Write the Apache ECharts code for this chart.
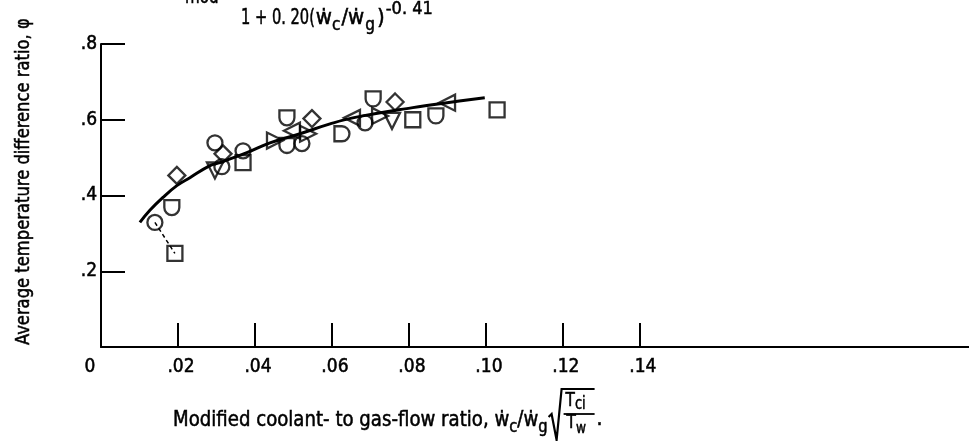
<!DOCTYPE html>
<html>
<head>
<meta charset="utf-8">
<script src="https://cdn.jsdelivr.net/npm/echarts@6/dist/echarts.min.js"></script>
<style>
  html, body { margin: 0; padding: 0; background: #fff; }
  #chart { width: 969px; height: 441px; }
</style>
</head>
<body>
<div id="chart"></div>
<script>
// Axis ticks
const xTickValues = [0, 0.02, 0.04, 0.06, 0.08, 0.10, 0.12, 0.14];
const yTickValues = [0.2, 0.4, 0.6, 0.8];

// Correlation curve through the data
const curveX = [0.0101, 0.0127, 0.0161, 0.0197, 0.0231, 0.0283, 0.0309, 0.0379, 0.0439, 0.0517, 0.0595, 0.0654, 0.081, 0.0899, 0.0997];
const curveY = [0.329, 0.361, 0.395, 0.426, 0.447, 0.479, 0.487, 0.513, 0.539, 0.563, 0.589, 0.605, 0.632, 0.645, 0.658];

// Measured points, one list per symbol
const circles   = [[0.0140, 0.329], [0.0296, 0.539], [0.0314, 0.476], [0.0369, 0.518], [0.0522, 0.537], [0.0686, 0.592]];
const squares   = [[0.0192, 0.247], [0.0369, 0.487], [0.081, 0.600], [0.1029, 0.626]];
const diamonds  = [[0.0197, 0.453], [0.0317, 0.510], [0.0548, 0.603], [0.0764, 0.647]];
const triDown   = [[0.0296, 0.466], [0.0756, 0.597]];
const triRight  = [[0.0452, 0.545], [0.0538, 0.563], [0.0725, 0.610]];
const triLeft   = [[0.0496, 0.571], [0.0652, 0.605], [0.0899, 0.645]];
const flagDown  = [[0.0184, 0.368], [0.0483, 0.605], [0.0483, 0.532], [0.0707, 0.655], [0.087, 0.610]];
const flagRight = [[0.0626, 0.563]];

const FONT = '"Liberation Sans Narrow", "DejaVu Sans Condensed", "Roboto Condensed", "Arial Narrow", "Liberation Sans", sans-serif';
const INK = '#000';

function zip(xs, ys) { return xs.map((x, i) => [x, ys[i]]); }

const chart = echarts.init(document.getElementById('chart'), null, { renderer: 'canvas' });

const hollow = { color: 'rgba(0,0,0,0)', borderColor: INK, borderWidth: 2.3 };
function pts(name, data, symbol, size, rotate) {
  return {
    name, type: 'scatter', data, symbol, symbolSize: size, symbolRotate: rotate || 0,
    symbolKeepAspect: true, itemStyle: hollow, z: 3, silent: true
  };
}

// Text layout helper: lays pieces left to right using measured widths
const mctx = document.createElement('canvas').getContext('2d');
function measure(text, size) { mctx.font = size + 'px ' + FONT; return mctx.measureText(text).width; }
function run(x0, baseline, sx, pieces) {
  let x = x0;
  const els = [];
  pieces.forEach(p => {
    const k = p.sx || sx;
    els.push({
      type: 'text', x: x, y: baseline + (p.dy || 0), scaleX: k,
      style: { text: p.t, font: p.s + 'px ' + FONT, fill: INK, stroke: INK, lineWidth: 0.5,
               textAlign: 'left', textVerticalAlign: 'bottom' }
    });
    x += measure(p.t, p.s) * k + (p.gap || 0);
  });
  return { els, end: x };
}

// Top: clipped expression
const top1 = run(185, 8, 0.8, [{ t: 'mod', s: 21 }]);
const top2 = run(241, 29, 1, [
  { t: '1 + 0. 20(', s: 22, sx: 0.74, gap: 1 }, { t: 'ẇ', s: 22 }, { t: 'c', s: 17, dy: 5, gap: 1 },
  { t: '/ẇ', s: 22, gap: 1 }, { t: 'g', s: 17, dy: 5, gap: 2 }, { t: ')', s: 22, gap: 1 },
  { t: '-0. 41', s: 18, dy: -11 }
]);

// x-axis title with radical
const xt = run(173, 431, 0.96, [
  { t: 'Modified coolant- to gas-flow ratio, ẇ', s: 21 }, { t: 'c', s: 17, dy: 5 },
  { t: '/ẇ', s: 21 }, { t: 'g', s: 17, dy: 5, gap: 1 }
]);
const rx = xt.end;
const fracW = 32;
const radical = [
  { type: 'polyline', shape: { points: [[rx, 417], [rx + 3, 414], [rx + 8, 440], [rx + 13, 389], [rx + 14 + fracW, 389]] },
    style: { stroke: INK, lineWidth: 2.2, fill: null } },
  { type: 'line', shape: { x1: rx + 15, y1: 414, x2: rx + 14 + fracW, y2: 414 }, style: { stroke: INK, lineWidth: 1.8 } }
];
const numer = run(rx + 17, 411, 0.85, [{ t: 'T', s: 20 }, { t: 'ci', s: 17, dy: 2 }]);
const denom = run(rx + 18, 433, 0.85, [{ t: 'T', s: 20 }, { t: 'w', s: 16, dy: 4 }]);
const period = run(rx + 16 + fracW, 430, 1, [{ t: '.', s: 21 }]);

const tickLabel = { color: INK, fontFamily: FONT, fontSize: 19, textBorderColor: INK, textBorderWidth: 0.5 };

const option = {
  backgroundColor: '#fff',
  animation: false,
  grid: { left: 101, right: 0, top: 44, bottom: 94, containLabel: false },
  xAxis: {
    type: 'value', min: 0, max: 0.2255,
    axisLine: { show: true, onZero: false, lineStyle: { color: INK, width: 2 } },
    axisTick: { show: true, inside: true, length: 24, customValues: xTickValues.slice(1), lineStyle: { color: INK, width: 2 } },
    axisLabel: Object.assign({
      customValues: xTickValues, margin: 11,
      formatter: v => v === 0 ? '{o|0}' : '{n|.' + String(Math.round(v * 100)).padStart(2, '0') + '}',
      rich: {
        o: Object.assign({ padding: [0, 22, 0, 0] }, tickLabel),
        n: Object.assign({ padding: [0, 0, 0, 6] }, tickLabel)
      }
    }, tickLabel),
    splitLine: { show: false }
  },
  yAxis: {
    type: 'value', min: 0, max: 0.8, interval: 0.2,
    axisLine: { show: true, onZero: false, lineStyle: { color: INK, width: 2 } },
    axisTick: { show: true, inside: true, length: 24, customValues: yTickValues, lineStyle: { color: INK, width: 2 } },
    axisLabel: Object.assign({
      customValues: yTickValues, margin: 4,
      formatter: v => '.' + Math.round(v * 10)
    }, tickLabel),
    splitLine: { show: false }
  },
  series: [
    { name: 'curve', type: 'line', data: zip(curveX, curveY), smooth: 0.4, showSymbol: false,
      lineStyle: { color: INK, width: 3 }, z: 2, silent: true },
    { name: 'link', type: 'line', data: [circles[0], squares[0]], showSymbol: false,
      lineStyle: { color: INK, width: 1.5, type: [4, 3] }, z: 2, silent: true },
    pts('circles', circles, 'circle', 15),
    pts('squares', squares, 'rect', 15),
    pts('diamonds', diamonds, 'diamond', 17),
    pts('triDown', triDown, 'triangle', 16, 180),
    pts('triRight', triRight, 'triangle', 16, -90),
    pts('triLeft', triLeft, 'triangle', 16, 90),
    pts('flagDown', flagDown, 'path://M0 0H10V5A5 5 0 0 1 0 5Z', 15),
    pts('flagRight', flagRight, 'path://M0 0H5A5 5 0 0 1 5 10H0Z', 15)
  ],
  graphic: [
    { type: 'text', x: 24, y: 345, rotation: Math.PI / 2, scaleX: 0.91,
      style: { text: 'Average temperature difference ratio, φ', font: '20px ' + FONT, fill: INK,
               stroke: INK, lineWidth: 0.5, textAlign: 'left', textVerticalAlign: 'middle' } },
    ...top1.els, ...top2.els, ...xt.els, ...radical, ...numer.els, ...denom.els, ...period.els
  ]
};

chart.setOption(option);
</script>
</body>
</html>
